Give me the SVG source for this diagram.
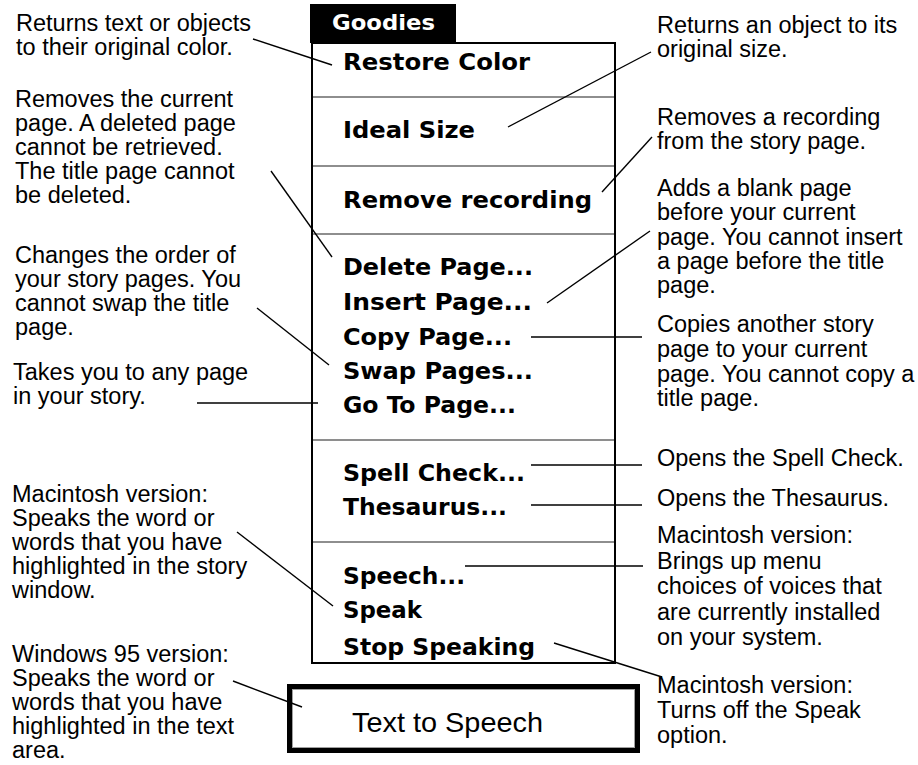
<svg xmlns="http://www.w3.org/2000/svg" width="918" height="765" viewBox="0 0 918 765">
  <style>
    .note { font-family: "Liberation Sans", Arial, sans-serif; font-size: 23.5px; fill: #000; }
    .item { font-family: "DejaVu Sans Condensed", "DejaVu Sans", sans-serif; font-weight: bold; font-size: 23px; fill: #000; }
    .title { font-family: "DejaVu Sans Condensed", "DejaVu Sans", sans-serif; font-weight: bold; font-size: 22px; fill: #fff; }
    .sep { stroke: #8e8e8e; stroke-width: 2; }
    .conn line { stroke: #000; stroke-width: 1.4; fill: none; }
  </style>

  <rect width="918" height="765" fill="#fff"/>

  <!-- Goodies menu -->
  <g id="menu">
    <rect x="310" y="4" width="146" height="39" fill="#000"/>
    <text class="title" x="332" y="30" textLength="103" lengthAdjust="spacingAndGlyphs">Goodies</text>
    <rect x="312" y="43" width="303" height="620" fill="#fff" stroke="#000" stroke-width="2"/>
    <line class="sep" x1="313" y1="97" x2="614" y2="97"/>
    <line class="sep" x1="313" y1="166" x2="614" y2="166"/>
    <line class="sep" x1="313" y1="234" x2="614" y2="234"/>
    <line class="sep" x1="313" y1="440" x2="614" y2="440"/>
    <line class="sep" x1="313" y1="542" x2="614" y2="542"/>
    <g id="item-restore-color"><text class="item" x="343" y="70" textLength="187" lengthAdjust="spacingAndGlyphs">Restore Color</text></g>
    <g id="item-ideal-size"><text class="item" x="343" y="138" textLength="132" lengthAdjust="spacingAndGlyphs">Ideal Size</text></g>
    <g id="item-remove-recording"><text class="item" x="343" y="208" textLength="249" lengthAdjust="spacingAndGlyphs">Remove recording</text></g>
    <g id="item-delete-page"><text class="item" x="343" y="275" textLength="190" lengthAdjust="spacingAndGlyphs">Delete Page...</text></g>
    <g id="item-insert-page"><text class="item" x="343" y="310" textLength="189" lengthAdjust="spacingAndGlyphs">Insert Page...</text></g>
    <g id="item-copy-page"><text class="item" x="343" y="345" textLength="169" lengthAdjust="spacingAndGlyphs">Copy Page...</text></g>
    <g id="item-swap-pages"><text class="item" x="343" y="379" textLength="190" lengthAdjust="spacingAndGlyphs">Swap Pages...</text></g>
    <g id="item-go-to-page"><text class="item" x="343" y="413" textLength="173" lengthAdjust="spacingAndGlyphs">Go To Page...</text></g>
    <g id="item-spell-check"><text class="item" x="343" y="481" textLength="182" lengthAdjust="spacingAndGlyphs">Spell Check...</text></g>
    <g id="item-thesaurus"><text class="item" x="343" y="515" textLength="164" lengthAdjust="spacingAndGlyphs">Thesaurus...</text></g>
    <g id="item-speech"><text class="item" x="343" y="584" textLength="122" lengthAdjust="spacingAndGlyphs">Speech...</text></g>
    <g id="item-speak"><text class="item" x="343" y="618" textLength="79" lengthAdjust="spacingAndGlyphs">Speak</text></g>
    <g id="item-stop-speaking"><text class="item" x="343" y="655" textLength="192" lengthAdjust="spacingAndGlyphs">Stop Speaking</text></g>
  </g>

  <!-- Windows 95 button -->
  <g id="text-to-speech-button">
    <rect x="289.5" y="686.5" width="348" height="64" fill="#fff" stroke="#000" stroke-width="5"/>
    <rect x="292.5" y="689.5" width="342" height="58" fill="none" stroke="#a0a0a0" stroke-width="1"/>
    <text x="352" y="732" font-family="Liberation Sans, Arial, sans-serif" font-size="28" textLength="191" lengthAdjust="spacingAndGlyphs">Text to Speech</text>
  </g>

  <!-- left-hand descriptions -->
  <g id="note-restore-color">
    <text class="note" x="16" y="31">Returns text or objects</text>
    <text class="note" x="16" y="55">to their original color.</text>
  </g>
  <g id="note-delete-page">
    <text class="note" x="15" y="107">Removes the current</text>
    <text class="note" x="15" y="131">page. A deleted page</text>
    <text class="note" x="15" y="155">cannot be retrieved.</text>
    <text class="note" x="15" y="179">The title page cannot</text>
    <text class="note" x="15" y="203">be deleted.</text>
  </g>
  <g id="note-swap-pages">
    <text class="note" x="15" y="263">Changes the order of</text>
    <text class="note" x="15" y="287">your story pages. You</text>
    <text class="note" x="15" y="311">cannot swap the title</text>
    <text class="note" x="15" y="335">page.</text>
  </g>
  <g id="note-go-to-page">
    <text class="note" x="13" y="380">Takes you to any page</text>
    <text class="note" x="13" y="404">in your story.</text>
  </g>
  <g id="note-speak">
    <text class="note" x="12" y="502">Macintosh version:</text>
    <text class="note" x="12" y="526">Speaks the word or</text>
    <text class="note" x="12" y="550">words that you have</text>
    <text class="note" x="12" y="574">highlighted in the story</text>
    <text class="note" x="12" y="598">window.</text>
  </g>
  <g id="note-text-to-speech">
    <text class="note" x="12" y="662">Windows 95 version:</text>
    <text class="note" x="12" y="686">Speaks the word or</text>
    <text class="note" x="12" y="710">words that you have</text>
    <text class="note" x="12" y="734">highlighted in the text</text>
    <text class="note" x="12" y="758">area.</text>
  </g>

  <!-- right-hand descriptions -->
  <g id="note-ideal-size">
    <text class="note" x="657" y="33">Returns an object to its</text>
    <text class="note" x="657" y="57">original size.</text>
  </g>
  <g id="note-remove-recording">
    <text class="note" x="657" y="125">Removes a recording</text>
    <text class="note" x="657" y="149">from the story page.</text>
  </g>
  <g id="note-insert-page">
    <text class="note" x="657" y="196">Adds a blank page</text>
    <text class="note" x="657" y="220">before your current</text>
    <text class="note" x="657" y="245">page. You cannot insert</text>
    <text class="note" x="657" y="269">a page before the title</text>
    <text class="note" x="657" y="293">page.</text>
  </g>
  <g id="note-copy-page">
    <text class="note" x="657" y="332">Copies another story</text>
    <text class="note" x="657" y="357">page to your current</text>
    <text class="note" x="657" y="382">page. You cannot copy a</text>
    <text class="note" x="657" y="406">title page.</text>
  </g>
  <g id="note-spell-check">
    <text class="note" x="657" y="466">Opens the Spell Check.</text>
  </g>
  <g id="note-thesaurus">
    <text class="note" x="657" y="506">Opens the Thesaurus.</text>
  </g>
  <g id="note-speech">
    <text class="note" x="657" y="543">Macintosh version:</text>
    <text class="note" x="657" y="569">Brings up menu</text>
    <text class="note" x="657" y="594">choices of voices that</text>
    <text class="note" x="657" y="620">are currently installed</text>
    <text class="note" x="657" y="645">on your system.</text>
  </g>
  <g id="note-stop-speaking">
    <text class="note" x="657" y="693">Macintosh version:</text>
    <text class="note" x="657" y="718">Turns off the Speak</text>
    <text class="note" x="657" y="743">option.</text>
  </g>

  <!-- leader lines -->
  <g id="connectors" class="conn">
    <line x1="253" y1="39" x2="332" y2="65"/>
    <line x1="508" y1="127" x2="651" y2="52"/>
    <line x1="602" y1="192" x2="652" y2="137"/>
    <line x1="271" y1="171" x2="332" y2="257"/>
    <line x1="547" y1="303" x2="650" y2="231"/>
    <line x1="531" y1="337" x2="642" y2="337"/>
    <line x1="257" y1="308" x2="329" y2="365"/>
    <line x1="197" y1="403" x2="318" y2="403"/>
    <line x1="531" y1="465" x2="642" y2="465"/>
    <line x1="531" y1="505" x2="642" y2="505"/>
    <line x1="465" y1="566" x2="643" y2="566"/>
    <line x1="237" y1="532" x2="333" y2="606"/>
    <line x1="554" y1="643" x2="662" y2="677"/>
    <line x1="233" y1="681" x2="302" y2="707"/>
  </g>
</svg>
